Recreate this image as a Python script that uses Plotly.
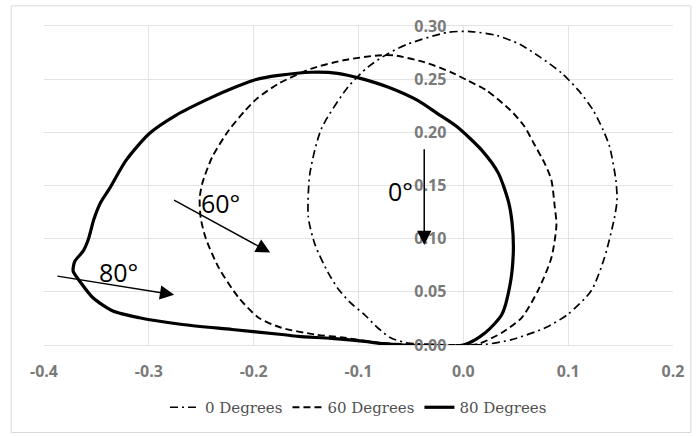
import plotly.graph_objects as go

# ---- data ----
x_0deg = [0.0, -0.03, -0.053, -0.069, -0.0815, -0.0941, -0.108, -0.1195, -0.129, -0.1415, -0.1479,
          -0.1463, -0.1353, -0.110, -0.091, -0.072, -0.053, -0.0152, 0.0069, 0.0322, 0.0543,
          0.0733, 0.0938, 0.1112, 0.1239, 0.1334, 0.1396, 0.1455, 0.1466, 0.144, 0.1346,
          0.122, 0.0995, 0.0777, 0.046, 0.0209, 0.0]
y_0deg = [0.0, 0.0006, 0.0019, 0.0066, 0.016, 0.0284, 0.040, 0.053, 0.068, 0.0944, 0.1206,
          0.1616, 0.2036, 0.2426, 0.2614, 0.274, 0.283, 0.294, 0.2948, 0.291, 0.2826,
          0.2707, 0.2557, 0.2379, 0.2207, 0.202, 0.1863, 0.155, 0.136, 0.119, 0.082,
          0.051, 0.0287, 0.016, 0.005, 0.0006, 0.0]

x_60deg = [0.0, -0.0486, -0.0806, -0.113, -0.1415, -0.1735, -0.1953, -0.2142, -0.2332, -0.2458,
           -0.2505, -0.2515, -0.249, -0.2395, -0.2237, -0.2079, -0.1969, -0.1763, -0.1447, -0.113,
           -0.0815, -0.0657, -0.0373, -0.012, 0.0038, 0.022, 0.045, 0.058, 0.067, 0.078,
           0.084, 0.0872, 0.0888, 0.084, 0.0711, 0.0556, 0.0367, 0.0142, 0.0]
y_60deg = [0.0, 0.0006, 0.0022, 0.0068, 0.0099, 0.0162, 0.0257, 0.0444, 0.0725, 0.1007,
           0.1194, 0.138, 0.152, 0.1769, 0.202, 0.2207, 0.2317, 0.2458, 0.260, 0.268,
           0.2723, 0.2723, 0.266, 0.2567, 0.2489, 0.2395, 0.2207, 0.206, 0.19, 0.17,
           0.155, 0.13, 0.113, 0.082, 0.051, 0.0256, 0.0115, 0.001, 0.0]

x_80deg = [0.0, -0.0752, -0.0941, -0.1258, -0.1573, -0.1732, -0.2206, -0.268, -0.309, -0.3343,
           -0.3533, -0.3659, -0.3722, -0.3706, -0.3627, -0.3575, -0.3525, -0.3460, -0.3374, -0.3216,
           -0.2995, -0.2742, -0.2427, -0.2173, -0.1984, -0.1763, -0.1447, -0.1200, -0.0973, -0.072,
           -0.0436, -0.0246, -0.0057, 0.0177, 0.0335, 0.043, 0.0465, 0.0477, 0.0446, 0.0367,
           0.0209, 0.0]
y_80deg = [0.0, 0.001, 0.0034, 0.0062, 0.0081, 0.0099, 0.0146, 0.0193, 0.0256, 0.0319,
           0.0444, 0.060, 0.0694, 0.0788, 0.0882, 0.1000, 0.1180, 0.1340, 0.1473, 0.1738,
           0.1989, 0.216, 0.2317, 0.2426, 0.2495, 0.2535, 0.2565, 0.2555, 0.2505, 0.2426,
           0.230, 0.2176, 0.205, 0.183, 0.1614, 0.135, 0.115, 0.0882, 0.0569, 0.0287,
           0.0115, 0.0]

series_names = ["0 Degrees", "60 Degrees", "80 Degrees"]

x_tickvals = [-0.4, -0.3, -0.2, -0.1, 0.0, 0.1, 0.2]
x_ticktext = ["-0.4", "-0.3", "-0.2", "-0.1", "0.0", "0.1", "0.2"]
y_tickvals = [0.0, 0.05, 0.10, 0.15, 0.20, 0.25, 0.30]
y_ticktext = ["0.00", "0.05", "0.10", "0.15", "0.20", "0.25", "0.30"]

# annotation labels: text, text position, arrow tail, arrow tip (data units)
angle_labels = ["60°", "80°", "0°"]
label_x = [-0.2316, -0.3294, -0.0597]
label_y = [0.134, 0.0688, 0.1447]
arrow_tail_x = [-0.2774, -0.3886, -0.0373]
arrow_tail_y = [0.137, 0.065, 0.1854]
arrow_tip_x = [-0.1842, -0.2758, -0.0373]
arrow_tip_y = [0.0869, 0.0472, 0.0941]

# ---- figure ----
fig = go.Figure()
styles = [dict(dash="8px,4px,2px,4px", width=1.7),
          dict(dash="7px,4px", width=1.9),
          dict(dash="solid", width=3.2)]
for name, xs, ys, st in zip(series_names, [x_0deg, x_60deg, x_80deg],
                            [y_0deg, y_60deg, y_80deg], styles):
    fig.add_trace(go.Scatter(x=xs, y=ys, mode="lines", name=name,
                             line=dict(color="black", shape="spline", smoothing=0.7, **st)))

grid = "#e3e3e3"
tick_font = dict(family="Open Sans", size=16, color="#7a7a7a", weight="bold")
fig.update_layout(
    width=696, height=436,
    margin=dict(l=44, r=19, t=26, b=91),
    paper_bgcolor="white", plot_bgcolor="white",
    showlegend=True,
    legend=dict(orientation="h", x=0.5, xanchor="center", y=-0.196, yanchor="middle",
                font=dict(family="DejaVu Serif", size=15, color="#505050"),
                bgcolor="rgba(0,0,0,0)"),
    xaxis=dict(range=[-0.4, 0.2], tickmode="array", tickvals=x_tickvals, ticktext=x_ticktext,
               showgrid=True, gridcolor=grid, gridwidth=1, zeroline=False,
               showline=True, linecolor=grid, mirror=True, ticks="",
               ticklabelstandoff=12, tickfont=tick_font),
    yaxis=dict(range=[0, 0.30], tickmode="array", tickvals=y_tickvals, ticktext=y_ticktext,
               showgrid=True, gridcolor=grid, gridwidth=1, zeroline=False,
               showline=False, ticks="", anchor="free", position=0.4 / 0.6,
               ticklabelstandoff=17, tickfont=tick_font),
)

# outer chart border
fig.add_shape(type="rect", xref="paper", yref="paper",
              x0=(11 - 44) / 633, x1=(695 - 44) / 633,
              y0=(345.3 - 433) / 319.6, y1=(345.3 - 5.5) / 319.6,
              line=dict(color="#d9d9d9", width=1), layer="below")

for t, lx, ly, tx, ty, hx, hy in zip(angle_labels, label_x, label_y,
                                     arrow_tail_x, arrow_tail_y, arrow_tip_x, arrow_tip_y):
    fig.add_annotation(x=hx, y=hy, ax=tx, ay=ty, xref="x", yref="y", axref="x", ayref="y",
                       text="", showarrow=True, arrowhead=2, arrowsize=1.9, arrowwidth=1.5,
                       arrowcolor="black", standoff=0, startstandoff=0)
    fig.add_annotation(x=lx, y=ly, xref="x", yref="y", text=t, showarrow=False,
                       font=dict(family="Open Sans", size=25, color="black"),
                       xanchor="center", yanchor="middle")

fig.write_html("out.html")
